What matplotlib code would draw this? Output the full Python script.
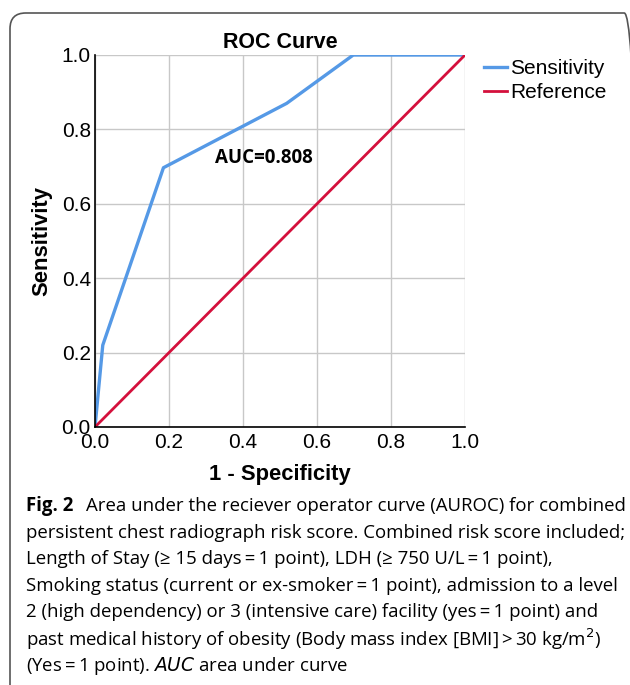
import matplotlib.pyplot as plt
from matplotlib.patches import FancyBboxPatch

fpr = [0.0, 0.021, 0.185, 0.518, 0.698, 1.0]
tpr = [0.0, 0.22, 0.697, 0.870, 1.0, 1.0]
ref_x = [0.0, 1.0]
ref_y = [0.0, 1.0]
ticks = [0.0, 0.2, 0.4, 0.6, 0.8, 1.0]
auc_label = "AUC=0.808"

caption = [
    "Area under the reciever operator curve (AUROC) for combined",
    "persistent chest radiograph risk score. Combined risk score included;",
    "Length of Stay (\u2265 15 days\u2009=\u20091 point), LDH (\u2265 750 U/L\u2009=\u20091 point),",
    "Smoking status (current or ex-smoker\u2009=\u20091 point), admission to a level",
    "2 (high dependency) or 3 (intensive care) facility (yes\u2009=\u20091 point) and",
    "past medical history of obesity (Body mass index [BMI]\u2009>\u200930 kg/m$^2$)",
    "(Yes\u2009=\u20091 point). $\\it{AUC}$ area under curve",
]

plt.rcParams["font.family"] = ["Liberation Sans", "DejaVu Sans"]

fig = plt.figure(figsize=(6.3, 6.85), dpi=100)

# rounded frame around the figure
frame = FancyBboxPatch((10 / 630, -0.05), 1.0, 1 - 13 / 685 + 0.05,
                       boxstyle="round,pad=0,rounding_size=0.025",
                       mutation_aspect=630 / 685,
                       transform=fig.transFigure, fill=False,
                       edgecolor="#555555", linewidth=1.2)
fig.patches.append(frame)

ax = fig.add_axes([95 / 630, 1 - 427 / 685, 370 / 630, 372 / 685])
ax.plot(fpr, tpr, color="#5599e6", linewidth=2.4, label="Sensitivity")
ax.plot(ref_x, ref_y, color="#d4103c", linewidth=2.0, label="Reference")

ax.set_xlim(0, 1)
ax.set_ylim(0, 1)
ax.set_xticks(ticks)
ax.set_yticks(ticks)
ax.set_xticklabels([f"{t:.1f}" for t in ticks])
ax.set_yticklabels([f"{t:.1f}" for t in ticks])
ax.tick_params(length=0, labelsize=15)
ax.tick_params(axis="y", pad=3)
ax.tick_params(axis="x", pad=4)
ax.grid(True, color="#c8c8c8", linewidth=1.0)
ax.set_axisbelow(True)
for s in ["top", "right"]:
    ax.spines[s].set_visible(False)
for s in ["left", "bottom"]:
    ax.spines[s].set_linewidth(1.2)

ax.set_title("ROC Curve", fontsize=15.5, fontweight="bold", pad=5)
ax.set_xlabel("1 - Specificity", fontsize=15.8, fontweight="bold", labelpad=9)
ax.set_ylabel("Sensitivity", fontsize=15.8, fontweight="bold", labelpad=7)
ax.text(0.324, 0.723, auc_label, fontsize=13.5, fontweight="bold",
        family=["Open Sans", "DejaVu Sans"], va="center", ha="left")

ax.legend(loc="upper left", bbox_to_anchor=(1.0, 1.04), frameon=False,
          fontsize=15, handlelength=1.1, handletextpad=0.15, labelspacing=0.25)

# caption
cap_font = ["Open Sans", "DejaVu Sans"]
y0 = 506
for i, line in enumerate(caption):
    y = 1 - (y0 + i * 26.6) / 685
    if i == 0:
        fig.text(26 / 630, y, "Fig. 2", fontsize=13.4, fontweight="bold",
                 family=cap_font, va="center")
        fig.text(86 / 630, y, line, fontsize=13.4, family=cap_font, va="center")
    else:
        fig.text(26 / 630, y, line, fontsize=13.4, family=cap_font, va="center")

fig.savefig("out.png", dpi=100)
